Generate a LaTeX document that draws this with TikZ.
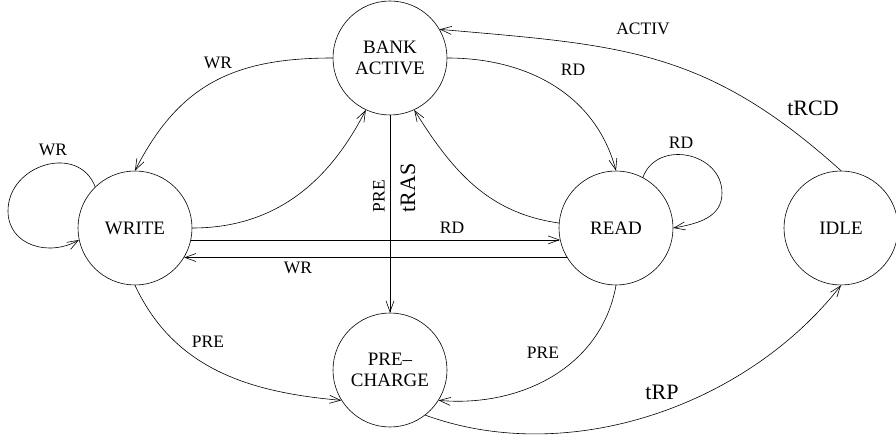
\documentclass[tikz,border=0pt]{standalone}
\usepackage{fontspec}
\setmainfont{Liberation Serif}
\usetikzlibrary{arrows.meta}
\begin{document}
\begin{tikzpicture}[x=1pt, y=1pt, >={Straight Barb[length=11pt,width=8pt]}, line width=.6pt,
    state/.style={circle, draw, minimum size=114pt, inner sep=0pt, align=center, font=\fontsize{19}{21}\selectfont},
    lbl/.style={font=\fontsize{17.5}{20}\selectfont, inner sep=0pt},
    tlbl/.style={font=\fontsize{22}{24}\selectfont, inner sep=0pt}]
     \useasboundingbox (0,0) rectangle (896,439);
     \node[state] (ba) at (390,381) {BANK\\ACTIVE};
     \node[state] (wr) at (135,211) {WRITE};
     \node[state] (rd) at (616,211) {READ};
     \node[state] (pc) at (390,69) {PRE--\\CHARGE};
     \node[state] (idle) at (841,211) {IDLE};
     \coordinate (wloop) at (8,228);
     \coordinate (rloop) at (722,246);
     \draw[->](wr.134) to[out=111, in=90, looseness=1.32] (wloop) to[out=-90, in=210, looseness=1.15] (wr.192);
     \draw[->](rd.62) to[out=70, in=90, looseness=1.3] (rloop) to[out=-90, in=10, looseness=1.05] (rd.0);
     \draw[->](ba.180) to[out=180, in=63, looseness=1.1] (wr.90);
     \draw[->](wr.0) to[out=0, in=-117] (ba.-115);
     \draw[->](ba.0) to[out=0, in=105] (rd.90);
     \draw[->](rd.175) to[out=172, in=-58] (ba.-65);
     \draw[->](ba) -- (pc);
     \draw[->](wr.-12) -- (rd.192);
     \draw[->](rd.211) -- (wr.-31);
     \draw[->](wr.-90) to[out=-65, in=175] (pc.-148);
     \draw[->](rd.-90) to[out=-100, in=-5] (pc.-32);
     \draw[->](pc.-52) to[out=-20, in=-128, looseness=.9] (idle.-90);
     \draw[->](idle.90) to[out=138, in=-5, looseness=1.1] (ba.30);
     \node[lbl] (lwrloop) at (53,289) {WR};
     \node[lbl] (lrdloop) at (681,296) {RD};
     \node[lbl] (lwrba) at (218,376) {WR};
     \node[lbl] (lrdba) at (573,369) {RD};
     \node[lbl] (lactiv) at (643,410) {ACTIV};
     \node[tlbl] (ltrcd) at (813,331) {tRCD};
     \node[lbl, rotate=90] (lpre) at (379,243) {PRE};
     \node[tlbl, rotate=90] (ltras) at (408,251) {tRAS};
     \node[lbl] (lrdh) at (452,211) {RD};
     \node[lbl] (lwrh) at (298,171) {WR};
     \node[lbl] (lprew) at (208,97) {PRE};
     \node[lbl] (lprer) at (543,86) {PRE};
     \node[tlbl] (ltrp) at (662,47) {tRP};
 \end{tikzpicture}
\end{document}
